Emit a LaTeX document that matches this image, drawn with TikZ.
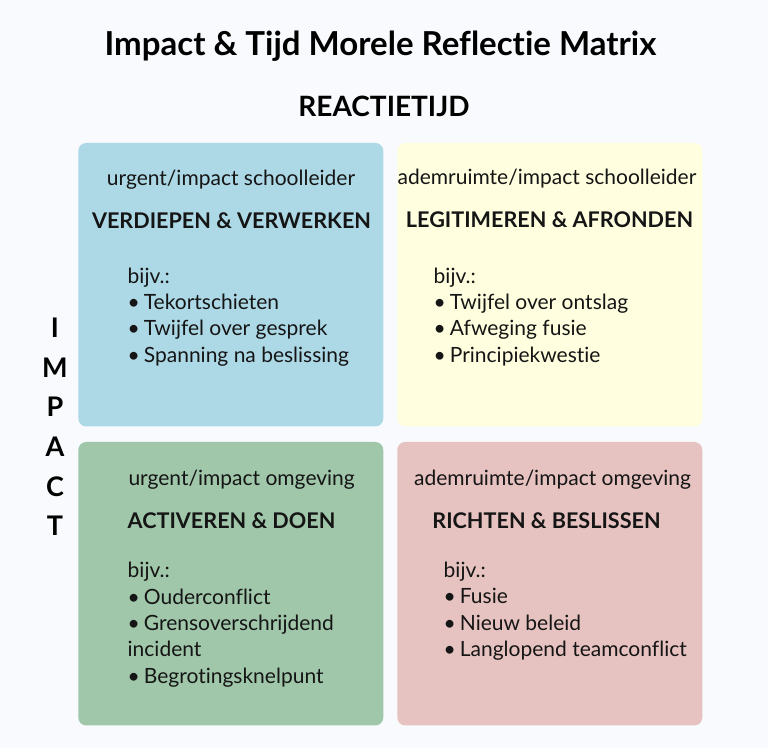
\documentclass[tikz,border=0pt]{standalone}
\usepackage{fontspec}
\setmainfont{Lato}[Ligatures={NoCommon}]
\usetikzlibrary{calc}
\definecolor{bgcol}{HTML}{F8FAFD}
\definecolor{qblue}{HTML}{ADD8E6}
\definecolor{qyellow}{HTML}{FFFFE0}
\definecolor{qgreen}{HTML}{A0C7AA}
\definecolor{qpink}{HTML}{E6C3C0}
\definecolor{ink}{HTML}{151515}
\newcommand{\bol}{•\hspace{4pt}}
\tikzset{
  quad/.style={
    shape = rectangle,
    rounded corners=8pt,
    inner sep = 0pt,
    minimum width=305pt,
    minimum height=283.5pt
  },
  subline/.style={
    inner sep = 0pt,
    anchor = base,
    text = ink,
    font = \fontsize{21}{24}\selectfont
  },
  kop/.style={
    inner sep = 0pt,
    anchor = base,
    text = ink,
    font = \fontsize{21.6}{26}\selectfont\bfseries
  },
  lijst/.style={
    inner sep = 0pt,
    anchor = north west,
    align = left,
    text = ink,
    font = \fontsize{21}{26.3}\selectfont
  },
  every picture/.style = {
    x=1pt, y=-1pt
  }
}
\begin{document}
\begin{tikzpicture}
            \fill[bgcol] (0,0) rectangle (768,748);
            \node[font=\fontsize{33}{38}\selectfont\bfseries, anchor=base, inner sep=0pt] (titel) at (380.5,55.7) {Impact \& Tijd Morele Reflectie Matrix};
            \node[font=\fontsize{28}{32}\selectfont\bfseries, anchor=base, inner sep=0pt] (tijd) at (384,116.7) {REACTIETIJD};
            \node[font=\fontsize{27}{39.6}\selectfont\bfseries, align=center, inner sep=0pt] (impact) at (55,427) {I\\M\\P\\A\\C\\T};
            % kwadranten
            \node[quad, fill=qblue] (q1) at (230.8,284.7) {};
            \node[quad, fill=qyellow] (q2) at (549.8,284.7) {};
            \node[quad, fill=qgreen] (q3) at (230.8,583.7) {};
            \node[quad, fill=qpink] (q4) at (549.8,583.7) {};
            % linksboven
            \node[subline] (q1sub) at (231,185) {urgent/impact schoolleider};
            \node[kop] (q1kop) at (231.5,228.7) {VERDIEPEN \& VERWERKEN};
            \node[lijst] (q1lijst) at (127.5,267.5) {bijv.:\\\bol Tekortschieten\\\bol Twijfel over gesprek\\\bol Spanning na beslissing};
            % rechtsboven
            \node[subline] (q2sub) at (547,184.3) {ademruimte/impact schoolleider};
            \node[kop] (q2kop) at (549.5,227.7) {LEGITIMEREN \& AFRONDEN};
            \node[lijst] (q2lijst) at (433.5,267.5) {bijv.:\\\bol Twijfel over ontslag\\\bol Afweging fusie\\\bol Principiekwestie};
            % linksonder
            \node[subline, anchor=base west] (q3sub) at (128.3,485) {urgent/impact omgeving};
            \node[kop, anchor=base west] (q3kop) at (127.5,528.3) {ACTIVEREN \& DOEN};
            \node[lijst] (q3lijst) at (127.5,562.3) {bijv.:\\\bol Ouderconflict\\\bol Grensoverschrijdend\\incident\\\bol Begrotingsknelpunt};
            % rechtsonder
            \node[subline] (q4sub) at (552.5,485) {ademruimte/impact omgeving};
            \node[kop] (q4kop) at (546.5,528.7) {RICHTEN \& BESLISSEN};
            \node[lijst] (q4lijst) at (443.5,562) {bijv.:\\\bol Fusie\\\bol Nieuw beleid\\\bol Langlopend teamconflict};
        \end{tikzpicture}
\end{document}
